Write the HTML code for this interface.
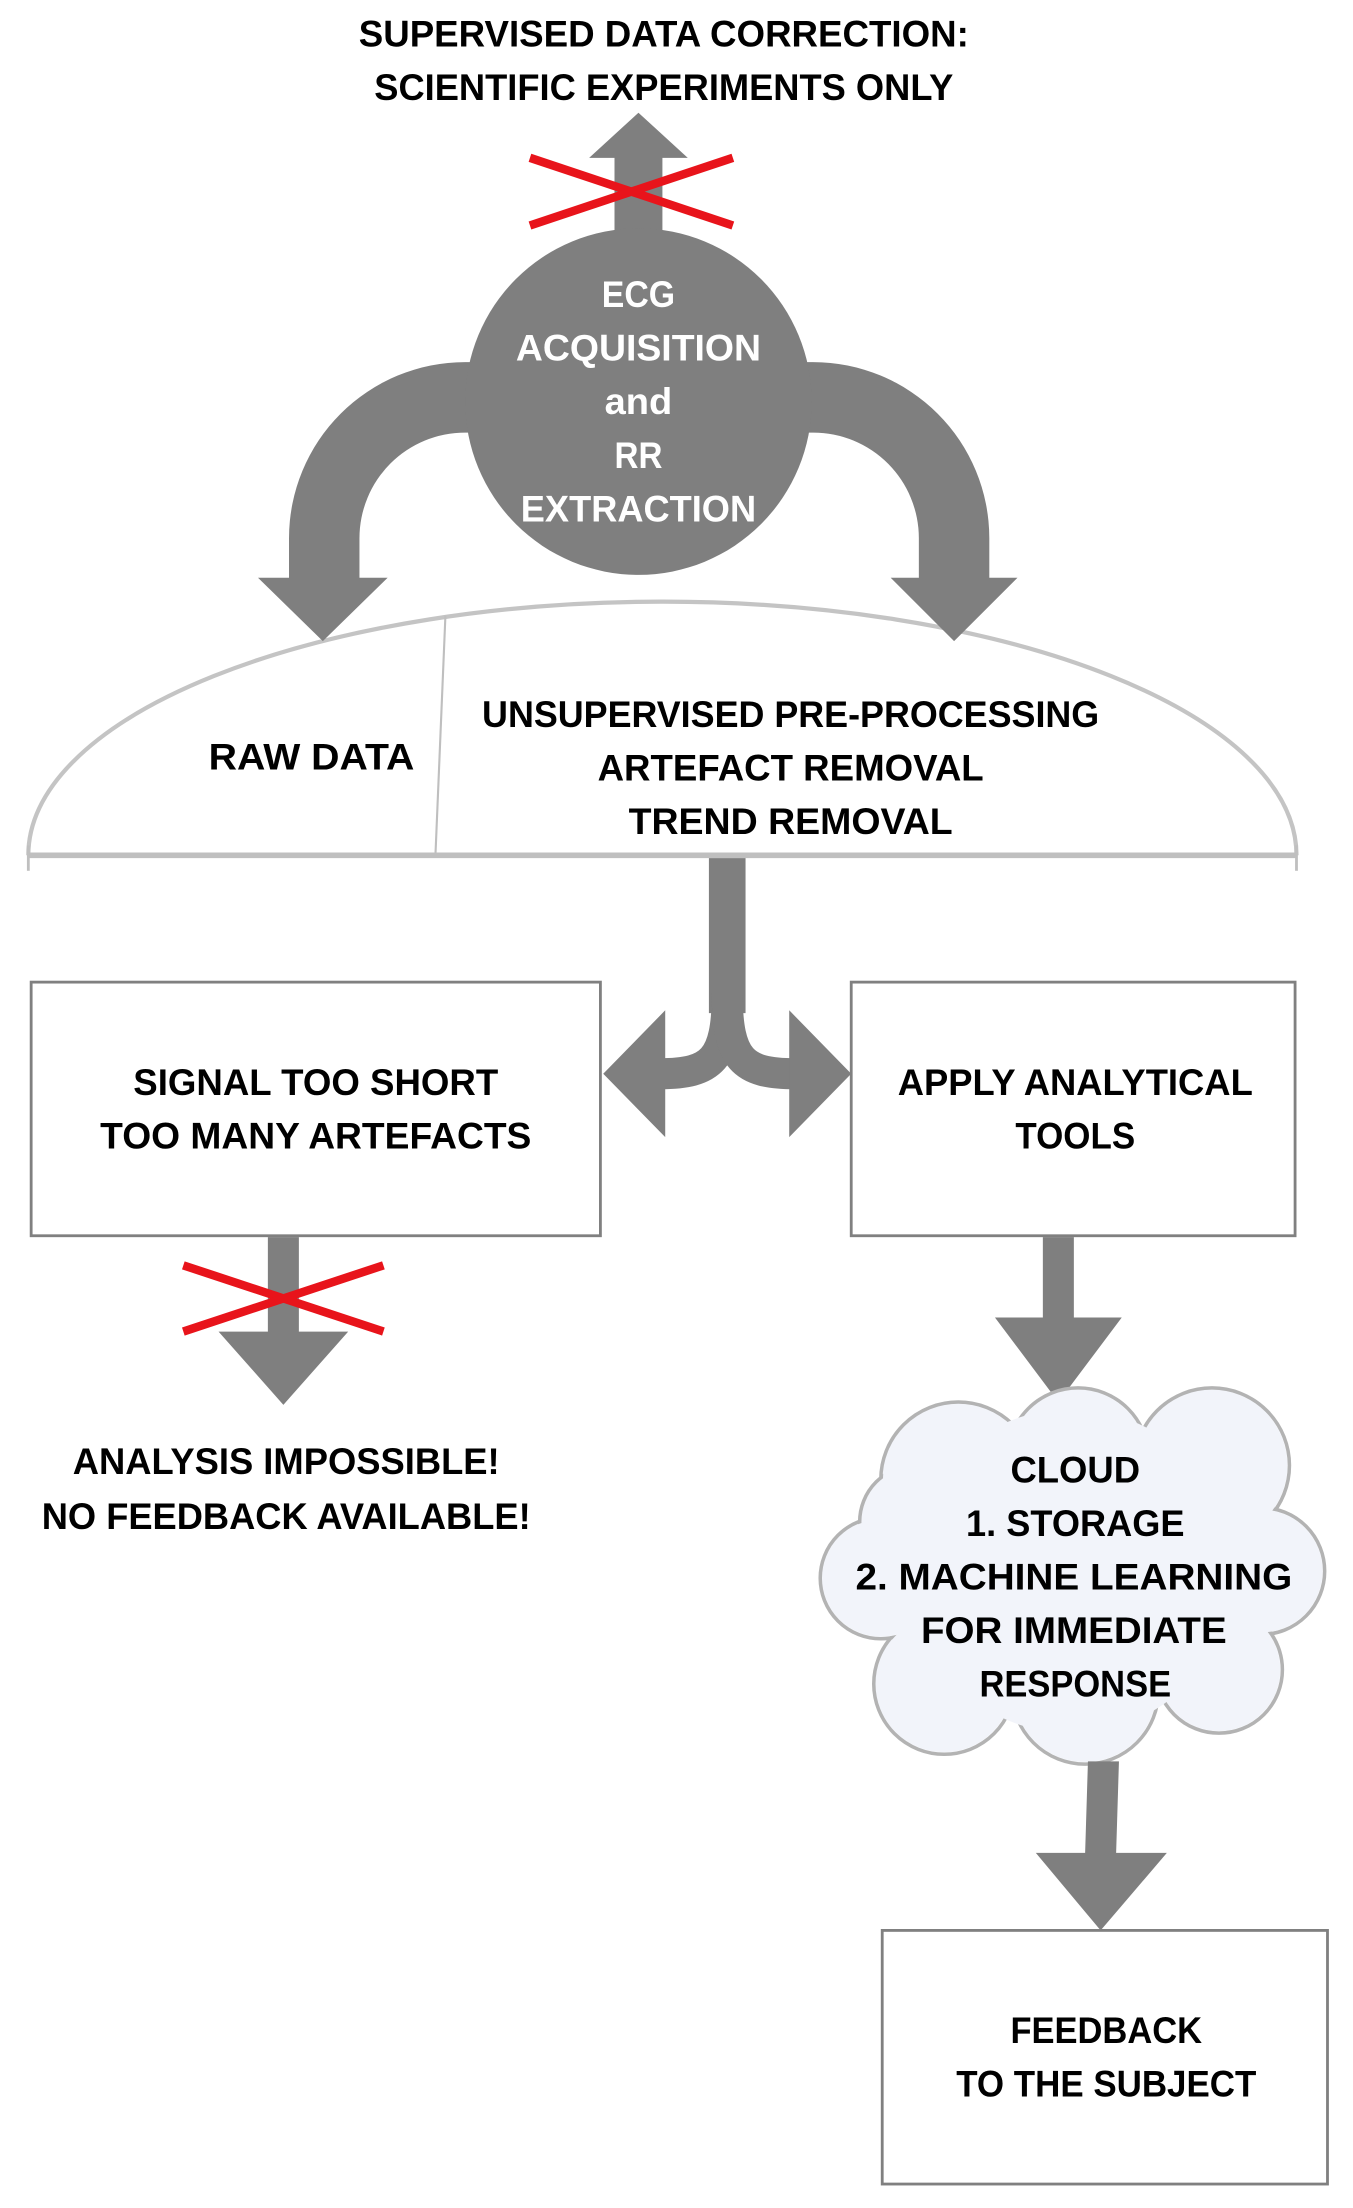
<!DOCTYPE html>
<html><head><meta charset="utf-8"><style>
html,body{margin:0;padding:0;background:#fff;}
svg{display:block;}
text{font-family:"Liberation Sans",sans-serif;font-weight:bold;font-size:26px;fill:#000;}
.w{fill:#fff;}
</style></head><body>
<svg width="1353" height="2208" viewBox="0 0 960 1567" xmlns="http://www.w3.org/2000/svg">
<defs>
<linearGradient id="cg" x1="0" y1="0" x2="1" y2="1"><stop offset="0" stop-color="#eef1f8"/><stop offset="1" stop-color="#ffffff"/></linearGradient>
</defs>
<!-- title -->
<text x="471" y="33" text-anchor="middle" textLength="433" lengthAdjust="spacingAndGlyphs">SUPERVISED DATA CORRECTION:</text>
<text x="471" y="71" text-anchor="middle" textLength="411" lengthAdjust="spacingAndGlyphs">SCIENTIFIC EXPERIMENTS ONLY</text>
<!-- up arrow -->
<polygon fill="#7f7f7f" points="436,170 436,112 418,112 453,80 488,112 470,112 470,170"/>
<g stroke="#e8141b" stroke-width="6"><line x1="376" y1="112" x2="520" y2="160"/><line x1="376" y1="160" x2="520" y2="112"/></g>
<!-- dome -->
<path d="M20,607 A450 180 0 0 1 920 607" fill="#fff" stroke="#c4c4c4" stroke-width="3"/>
<line x1="20" y1="607" x2="920" y2="607" stroke="#bfbfbf" stroke-width="4"/>
<line x1="20" y1="600" x2="20" y2="618" stroke="#bfbfbf" stroke-width="2"/>
<line x1="920" y1="600" x2="920" y2="618" stroke="#bfbfbf" stroke-width="2"/>
<line x1="316" y1="437" x2="309" y2="605" stroke="#bfbfbf" stroke-width="1.5"/>
<!-- curved arrows -->
<path fill="#7f7f7f" d="M340,257 L330,257 A125 125 0 0 0 205 382 L205,410 L183,410 L229,455 L275,410 L255,410 L255,382 A75 75 0 0 1 330 307 L340,307 Z"/>
<path fill="#7f7f7f" d="M567,257 L577,257 A125 125 0 0 1 702 382 L702,410 L722,410 L677,455 L632,410 L652,410 L652,382 A75 75 0 0 0 577 307 L567,307 Z"/>
<!-- circle -->
<circle cx="453" cy="285" r="123" fill="#7f7f7f"/>
<text class="w" x="453" y="218" text-anchor="middle" textLength="52" lengthAdjust="spacingAndGlyphs">ECG</text>
<text class="w" x="453" y="256" text-anchor="middle" textLength="174" lengthAdjust="spacingAndGlyphs">ACQUISITION</text>
<text class="w" x="453" y="294" text-anchor="middle" textLength="48" lengthAdjust="spacingAndGlyphs">and</text>
<text class="w" x="453" y="332" text-anchor="middle" textLength="34" lengthAdjust="spacingAndGlyphs">RR</text>
<text class="w" x="453" y="370" text-anchor="middle" textLength="167" lengthAdjust="spacingAndGlyphs">EXTRACTION</text>
<!-- dome text -->
<text x="221" y="546" text-anchor="middle" textLength="146" lengthAdjust="spacingAndGlyphs">RAW DATA</text>
<text x="561" y="516" text-anchor="middle" textLength="438" lengthAdjust="spacingAndGlyphs">UNSUPERVISED PRE-PROCESSING</text>
<text x="561" y="554" text-anchor="middle" textLength="274" lengthAdjust="spacingAndGlyphs">ARTEFACT REMOVAL</text>
<text x="561" y="592" text-anchor="middle" textLength="230" lengthAdjust="spacingAndGlyphs">TREND REMOVAL</text>
<!-- fork -->
<rect x="503" y="609" width="26" height="110" fill="#7f7f7f"/>
<path d="M516,705 C516,752 505,762 468,762" fill="none" stroke="#7f7f7f" stroke-width="22"/>
<path d="M516,705 C516,752 527,762 564,762" fill="none" stroke="#7f7f7f" stroke-width="22"/>
<polygon fill="#7f7f7f" points="472,717 472,807 428,762"/>
<polygon fill="#7f7f7f" points="560,717 560,807 604,762"/>
<!-- boxes -->
<rect x="22" y="697" width="404" height="180" fill="#fff" stroke="#808080" stroke-width="2"/>
<text x="224" y="777" text-anchor="middle" textLength="259" lengthAdjust="spacingAndGlyphs">SIGNAL TOO SHORT</text>
<text x="224" y="815" text-anchor="middle" textLength="306" lengthAdjust="spacingAndGlyphs">TOO MANY ARTEFACTS</text>
<rect x="604" y="697" width="315" height="180" fill="#fff" stroke="#808080" stroke-width="2"/>
<text x="763" y="777" text-anchor="middle" textLength="252" lengthAdjust="spacingAndGlyphs">APPLY ANALYTICAL</text>
<text x="763" y="815" text-anchor="middle" textLength="85" lengthAdjust="spacingAndGlyphs">TOOLS</text>
<!-- left down arrow -->
<polygon fill="#7f7f7f" points="190,878 212,878 212,945 247,945 201,997 155,945 190,945"/>
<g stroke="#e8141b" stroke-width="6"><line x1="130" y1="898" x2="272" y2="945"/><line x1="130" y1="945" x2="272" y2="898"/></g>
<text x="203" y="1046" text-anchor="middle" textLength="303" lengthAdjust="spacingAndGlyphs">ANALYSIS IMPOSSIBLE!</text>
<text x="203" y="1085" text-anchor="middle" textLength="347" lengthAdjust="spacingAndGlyphs">NO FEEDBACK AVAILABLE!</text>
<!-- right down arrow -->
<polygon fill="#7f7f7f" points="740,878 762,878 762,935 796,935 751,995 706,935 740,935"/>
<!-- cloud -->
<g stroke="#b3b3b3" stroke-width="2.5" fill="url(#cg)">
<circle cx="680" cy="1050" r="55"/><circle cx="765" cy="1035" r="50"/><circle cx="860" cy="1040" r="55"/>
<circle cx="895" cy="1115" r="45"/><circle cx="865" cy="1185" r="45"/><circle cx="770" cy="1200" r="52"/>
<circle cx="670" cy="1195" r="50"/><circle cx="625" cy="1120" r="43"/><circle cx="650" cy="1080" r="40"/>
</g>
<g fill="#f2f4fa">
<circle cx="680" cy="1050" r="53.5"/><circle cx="765" cy="1035" r="48.5"/><circle cx="860" cy="1040" r="53.5"/>
<circle cx="895" cy="1115" r="43.5"/><circle cx="865" cy="1185" r="43.5"/><circle cx="770" cy="1200" r="50.5"/>
<circle cx="670" cy="1195" r="48.5"/><circle cx="625" cy="1120" r="41.5"/><circle cx="650" cy="1080" r="38.5"/>
<circle cx="760" cy="1115" r="115"/>
</g>
<text x="763" y="1052" text-anchor="middle" textLength="92" lengthAdjust="spacingAndGlyphs">CLOUD</text>
<text x="763" y="1090" text-anchor="middle" textLength="155" lengthAdjust="spacingAndGlyphs">1. STORAGE</text>
<text x="762" y="1128" text-anchor="middle" textLength="310" lengthAdjust="spacingAndGlyphs">2.  MACHINE LEARNING</text>
<text x="762" y="1166" text-anchor="middle" textLength="217" lengthAdjust="spacingAndGlyphs">FOR IMMEDIATE</text>
<text x="763" y="1204" text-anchor="middle" textLength="136" lengthAdjust="spacingAndGlyphs">RESPONSE</text>
<!-- arrow to feedback -->
<polygon fill="#7f7f7f" points="772,1250 794,1250 792,1315 828,1315 781,1370 735,1315 770,1315"/>
<rect x="626" y="1370" width="316" height="180" fill="#fff" stroke="#808080" stroke-width="2"/>
<text x="785" y="1450" text-anchor="middle" textLength="136" lengthAdjust="spacingAndGlyphs">FEEDBACK</text>
<text x="785" y="1488" text-anchor="middle" textLength="213" lengthAdjust="spacingAndGlyphs">TO THE SUBJECT</text>
</svg>
</body></html>
